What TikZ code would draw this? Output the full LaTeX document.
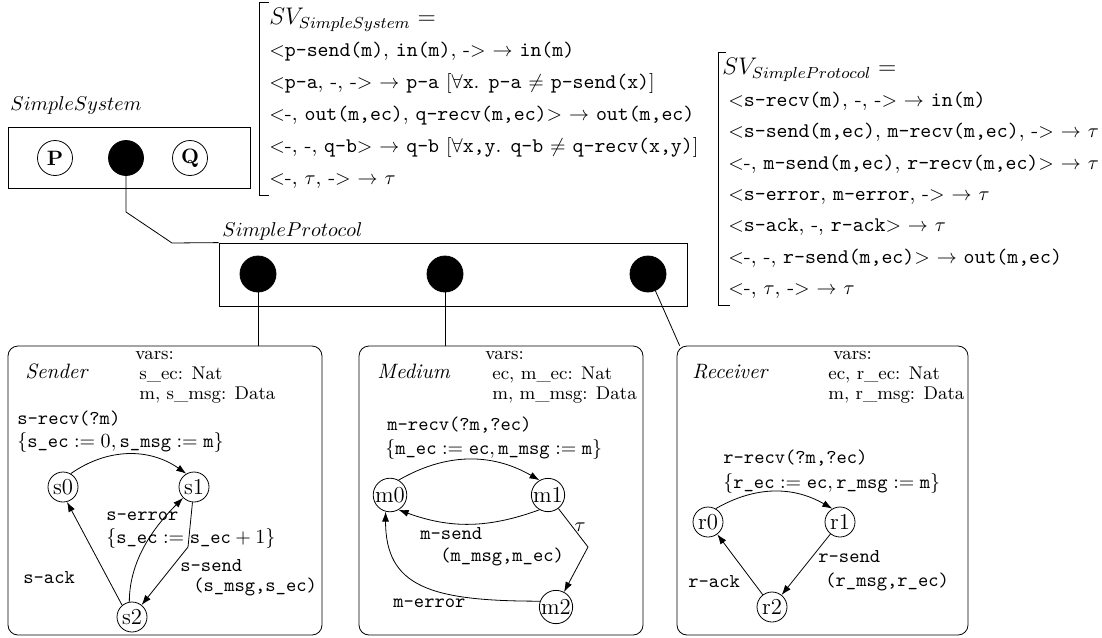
\documentclass[tikz,border=0pt]{standalone}
\usetikzlibrary{arrows.meta}

\newcommand{\svfont}{\fontsize{10.4}{16}\selectfont}
\newcommand{\svpfont}{\fontsize{10.4}{15.7}\selectfont}
\newcommand{\svhead}{\fontsize{12}{16}\selectfont}
\newcommand{\trfont}{\fontsize{9.8}{11}\selectfont\ttfamily}
\newcommand{\varsfont}{\fontsize{9.2}{10}\selectfont}
\newcommand{\lblfont}{\fontsize{10.4}{12}\selectfont}
\newcommand{\stfont}{\fontsize{11.4}{12}\selectfont}

\begin{document}
\begin{tikzpicture}[x=0.5pt, y=-0.5pt, >={Latex[length=5pt,width=3.5pt]},
  plainbox/.style={draw, inner sep=0pt},
  ltsbox/.style={draw, rounded corners=5pt, inner sep=0pt, minimum height=144.5pt},
  port/.style={circle, draw, fill=black, inner sep=0pt, minimum size=#1},
  port/.default=18pt,
  proc/.style={circle, draw, inner sep=0pt, minimum size=17.5pt, font=\lblfont\bfseries},
  lstate/.style={circle, draw, inner sep=0pt, minimum size=15pt, font=\stfont},
  trans/.style={anchor=west, inner sep=0pt, font=\trfont},
  varsblk/.style={anchor=north west, align=left, inner sep=0pt, font=\varsfont},
  ttl/.style={anchor=base west, inner sep=0pt, font=\lblfont},
  sv/.style={anchor=north west, align=left, inner ysep=3pt}]
\useasboundingbox (0,0) rectangle (1102,637);

% system and protocol
\node[plainbox, minimum width=121pt, minimum height=30.5pt] (sysbox) at (129,157.5) {};
\node[ttl] (syslbl) at (10,110) {$SimpleSystem$};
\node[proc] (p) at (55,158) {P};
\node[port=17.5pt] (sysport) at (126,158) {};
\node[proc] (q) at (190,158) {Q};

\node[plainbox, minimum width=234pt, minimum height=31.5pt] (protobox) at (453,274.5) {};
\node[ttl] (protolbl) at (222,236) {$SimpleProtocol$};
\node[port] (sport) at (258,274) {};
\node[port] (mport) at (445,274) {};
\node[port] (rport) at (648,274) {};

\coordinate (k1) at (126,212);
\coordinate (k2) at (172,243);
\draw (sysport) -- (k1) -- (k2) -- (protobox.north west);

% synchronisation vectors
\node[sv, inner xsep=5pt, font=\svfont] (svsys) at (259,2) {%
  {\svhead$SV_{SimpleSystem} =$}\\
  $<$\texttt{p-send(m)}, \texttt{in(m)}, -$>$ $\rightarrow$ \texttt{in(m)}\\
  $<$\texttt{p-a}, -, -$>$ $\rightarrow$ \texttt{p-a} $[\forall$\texttt{x}. \texttt{p-a} $\neq$ \texttt{p-send(x)}$]$\\
  $<$-, \texttt{out(m,ec)}, \texttt{q-recv(m,ec)}$>$ $\rightarrow$ \texttt{out(m,ec)}\\
  $<$-, -, \texttt{q-b}$>$ $\rightarrow$ \texttt{q-b} $[\forall$\texttt{x,y}. \texttt{q-b} $\neq$ \texttt{q-recv(x,y)}$]$\\
  $<$-, $\tau$, -$>$ $\rightarrow$ $\tau$};
\draw ([xshift=5pt]svsys.north west) -- (svsys.north west) -- (svsys.south west) -- ([xshift=5pt]svsys.south west);

\node[sv, inner xsep=2pt, font=\svpfont] (svproto) at (718,52) {%
  {\svhead$SV_{SimpleProtocol} =$}\\
  \hspace*{3pt}$<$\texttt{s-recv(m)}, -, -$>$ $\rightarrow$ \texttt{in(m)}\\
  \hspace*{3pt}$<$\texttt{s-send(m,ec)}, \texttt{m-recv(m,ec)}, -$>$ $\rightarrow$ $\tau$\\
  \hspace*{3pt}$<$-, \texttt{m-send(m,ec)}, \texttt{r-recv(m,ec)}$>$ $\rightarrow$ $\tau$\\
  \hspace*{3pt}$<$\texttt{s-error}, \texttt{m-error}, -$>$ $\rightarrow$ $\tau$\\
  \hspace*{3pt}$<$\texttt{s-ack}, -, \texttt{r-ack}$>$ $\rightarrow$ $\tau$\\
  \hspace*{3pt}$<$-, -, \texttt{r-send(m,ec)}$>$ $\rightarrow$ \texttt{out(m,ec)}\\
  \hspace*{3pt}$<$-, $\tau$, -$>$ $\rightarrow$ $\tau$};
\draw ([xshift=4pt]svproto.north west) -- (svproto.north west) -- (svproto.south west) -- ([xshift=6pt]svproto.south west);

% component boxes
\node[ltsbox, minimum width=157pt] (sender) at (165,490.5) {};
\node[ltsbox, minimum width=142pt] (medium) at (501,490.5) {};
\node[ltsbox, minimum width=145.5pt] (receiver) at (822.5,490.5) {};
\draw (sport) -- (sport |- sender.north);
\draw (mport) -- (mport |- medium.north);
\draw (rport) -- ([xshift=1.5pt]receiver.north west);

% Sender
\node[ttl] (sendlbl) at (25,378) {\textit{Sender}};
\node[varsblk] (svars) at (135,351) {vars:\\\hspace*{2pt}s\_ec: Nat\\\hspace*{2pt}m, s\_msg: Data};
\node[lstate] (s0) at (63,487) {s0};
\node[lstate] (s1) at (194,487) {s1};
\node[lstate] (s2) at (132,617) {s2};
\coordinate (sk) at (188,547);
\draw[->] (s0.60) to[bend left=35] (s1.120);
\draw[->] (s1) -- (sk) -- (s2);
\draw[->] (s2.100) .. controls +(0,-45) and +(-25,25) .. (s1.225);
\draw[->] (s2.130) -- (s0.285);
\node[trans] (srecv) at (17,418) {s-recv(?m)};
\node[trans] (srecvu) at (17,442) {$\{\texttt{s\_ec} := 0, \texttt{s\_msg} := \texttt{m}\}$};
\node[trans] (serr) at (106,516) {s-error};
\node[trans] (serru) at (106,538) {$\{\texttt{s\_ec} := \texttt{s\_ec} + 1\}$};
\node[trans] (ssend) at (180,566) {s-send};
\node[trans] (ssendv) at (193,587) {(s\_msg,s\_ec)};
\node[trans] (sack) at (23,578) {s-ack};

% Medium
\node[ttl] (medlbl) at (377,378) {\textit{Medium}};
\node[varsblk] (mvars) at (485,351) {vars:\\\hspace*{3.5pt}ec, m\_ec: Nat\\\hspace*{3.5pt}m, m\_msg: Data};
\node[lstate] (m0) at (390,495) {m0};
\node[lstate] (m1) at (548,495) {m1};
\node[lstate] (m2) at (556,607) {m2};
\coordinate (mk) at (588,547);
\draw[->] (m0.60) to[bend left=30] (m1.120);
\draw[->] (m1.240) to[bend left=20] (m0.300);
\draw[->] (m1) -- (mk) -- (m2);
\draw[->] (m2.160) .. controls +(-110,0) and +(0,75) .. (m0.255);
\node[trans] (mrecv) at (387,425) {m-recv(?m,?ec)};
\node[trans] (mrecvu) at (385,449) {$\{\texttt{m\_ec} := \texttt{ec}, \texttt{m\_msg} := \texttt{m}\}$};
\node[inner sep=0pt, font=\lblfont] (tau) at (580,527) {$\tau$};
\node[trans] (msend) at (420,534) {m-send};
\node[trans] (msendv) at (440,557) {(m\_msg,m\_ec)};
\node[trans] (merr) at (393,603) {m-error};

% Receiver
\node[ttl] (reclbl) at (692,378) {\textit{Receiver}};
\node[varsblk] (rvars) at (828,351) {\hspace*{2.5pt}vars:\\ec, r\_ec: Nat\\m, r\_msg: Data};
\node[lstate] (r0) at (708,522) {r0};
\node[lstate] (r1) at (840,522) {r1};
\node[lstate] (r2) at (772,607) {r2};
\draw[->] (r0.60) to[bend left=30] (r1.120);
\draw[->] (r1) -- (r2);
\draw[->] (r2) -- (r0);
\node[trans] (rrecv) at (723,458) {r-recv(?m,?ec)};
\node[trans] (rrecvu) at (723,483) {$\{\texttt{r\_ec} := \texttt{ec}, \texttt{r\_msg} := \texttt{m}\}$};
\node[trans] (rsend) at (818,557) {r-send};
\node[trans] (rsendv) at (825,582) {(r\_msg,r\_ec)};
\node[trans] (rack) at (688,582) {r-ack};
\end{tikzpicture}
\end{document}
